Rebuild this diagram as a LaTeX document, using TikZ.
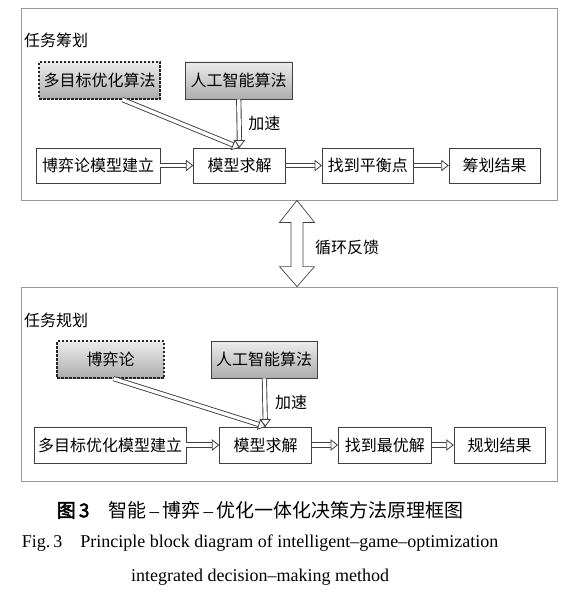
\documentclass[tikz,border=0pt]{standalone}
\usepackage{fontspec}
\setmainfont{Liberation Serif}
\newfontfamily\cjk[AutoFakeBold=2.5]{Noto Sans CJK SC}
\usetikzlibrary{arrows.meta,positioning,calc}
\newcommand\capdash{{\rmfamily\,–\,}}

\begin{document}
\begin{tikzpicture}[x=1pt, y=-1pt,
    every node/.style={font=\cjk\fontsize{16}{18}\selectfont},
    frame/.style={draw=gray!80, line width=0.8pt, inner sep=0pt},
    blk/.style={draw=black!75, line width=0.7pt, fill=white, minimum height=35pt, inner sep=2pt},
    algo/.style={blk, top color=gray!15, bottom color=gray!65, minimum height=37pt},
    dashblk/.style={algo, draw=black!85, dash pattern=on 2.5pt off 1.5pt, line width=1.2pt},
    hol/.style={draw=black!75, line width=0.9pt, double=white, double distance=3.4pt,
      -{Triangle[length=7.5pt, width=11.5pt, fill=white, line width'=0.8pt]}},
    lbl/.style={inner sep=0pt, anchor=west}]
  \useasboundingbox (0,0) rectangle (582,604);

  % task planning (top)
  \node[frame, minimum width=536pt, minimum height=192pt] (task) at (289,104) {};
  \node[lbl] (t1) at (24,40) {任务筹划};
  \node[dashblk, minimum width=121pt] (moo) at (99.5,80.5) {多目标优化算法};
  \node[algo, minimum width=107pt] (ai) at (238.5,80.5) {人工智能算法};
  \node[blk, minimum width=124pt] (game) at (98,165.5) {博弈论模型建立};
  \node[blk, minimum width=92pt, right=33pt of game] (solve) {模型求解};
  \node[blk, minimum width=91pt, right=36pt of solve] (eq) {找到平衡点};
  \node[blk, minimum width=91pt, right=35pt of eq] (res) {筹划结果};
  \draw[hol] (game) -- (solve);
  \draw[hol] (solve) -- (eq);
  \draw[hol] (eq) -- (res);
  \draw[hol] (ai) -- (solve);
  \draw[hol] ($(moo.south)+(23,0)$) -- (solve.north);
  \node[lbl] (acc) at ($(ai.south)!0.5!(solve.north)+(9,0)$) {加速};

  % mission planning (bottom)
  \node[frame, minimum width=536pt, minimum height=194pt] (plan) at (289,384) {};
  \node[lbl] (t2) at (24,320) {任务规划};
  \node[dashblk, minimum width=107pt] (gt) at (110.5,359.5) {博弈论};
  \node[algo, minimum width=106pt] (ai2) at (264,359.5) {人工智能算法};
  \node[blk, minimum width=152pt, minimum height=36pt] (moo2) at (110,445) {多目标优化模型建立};
  \node[blk, minimum width=92pt, minimum height=36pt, right=33pt of moo2] (solve2) {模型求解};
  \node[blk, minimum width=93pt, minimum height=36pt, right=26pt of solve2] (opt) {找到最优解};
  \node[blk, minimum width=91pt, minimum height=36pt, right=22pt of opt] (res2) {规划结果};
  \draw[hol] (moo2) -- (solve2);
  \draw[hol] (solve2) -- (opt);
  \draw[hol] (opt) -- (res2);
  \draw[hol] (ai2) -- (solve2);
  \draw[hol] ($(gt.south)+(3,0)$) -- (solve2.north);
  \node[lbl] (acc2) at ($(ai2.south)!0.5!(solve2.north)+(10,0)$) {加速};

  % feedback loop
  \coordinate (fbt) at (task.south -| 297,0);
  \coordinate (fbb) at (plan.north -| 297,0);
  \draw[black!75, line width=0.7pt, line join=miter] (fbt) -- ++(17.5,22) -- ++(-11.5,0) -- ($(fbb)+(6,-20)$)
    -- ++(11.5,0) -- (fbb) -- ++(-17.5,-20) -- ++(11.5,0) -- ($(fbt)+(-6,22)$) -- ++(-11.5,0) -- cycle;
  \node[lbl] (loop) at (315,247) {循环反馈};

  % caption
  \node[font=\fontsize{19}{22}\selectfont] (cap1) at (260,510)
    {{\cjk\bfseries 图\,3}\quad{\cjk 智能}\capdash{\cjk 博弈}\capdash{\cjk 优化一体化决策方法原理框图}};
  \node[font=\fontsize{18}{20}\selectfont] (cap2) at (260,543)
    {Fig.\,3\quad Principle block diagram of intelligent–game–optimization};
  \node[font=\fontsize{18}{20}\selectfont] (cap3) at (260,577)
    {integrated decision–making method};
\end{tikzpicture}
\end{document}
